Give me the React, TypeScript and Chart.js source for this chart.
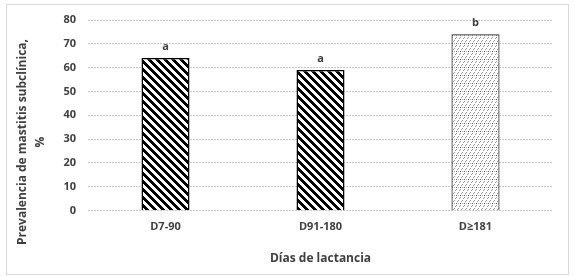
import React, { useEffect, useRef } from "react";
import { Chart, registerables } from "chart.js";

Chart.register(...registerables);

const categories = ["D7-90", "D91-180", "D≥181"];
const prevalence = [64, 59, 74];
const letters = ["a", "a", "b"];
const yTicks = [0, 10, 20, 30, 40, 50, 60, 70, 80];
const yTitle = ["Prevalencia de mastitis subclínica,", "%"];
const xTitle = "Días de lactancia";

const FONT = "'Open Sans', 'Liberation Sans', sans-serif";
const TEXT = "#404040";

function stripePattern(): CanvasPattern | string {
  const c = document.createElement("canvas");
  c.width = 8;
  c.height = 8;
  const g = c.getContext("2d");
  if (!g) return "#000";
  const img = g.createImageData(8, 8);
  for (let y = 0; y < 8; y++) {
    for (let x = 0; x < 8; x++) {
      const m = (((x - y) % 8) + 8) % 8;
      const v = m < 4 ? 0 : 255;
      const i = (y * 8 + x) * 4;
      img.data[i] = v;
      img.data[i + 1] = v;
      img.data[i + 2] = v;
      img.data[i + 3] = 255;
    }
  }
  g.putImageData(img, 0, 0);
  return g.createPattern(c, "repeat") || "#000";
}

function dotPattern(): CanvasPattern | string {
  const c = document.createElement("canvas");
  c.width = 8;
  c.height = 8;
  const g = c.getContext("2d");
  if (!g) return "#eee";
  g.fillStyle = "#fff";
  g.fillRect(0, 0, 8, 8);
  g.fillStyle = "#999";
  g.fillRect(1, 1, 1, 1);
  g.fillRect(2, 0, 1, 1);
  g.fillRect(5, 1, 1, 1);
  g.fillRect(6, 0, 1, 1);
  g.fillRect(3, 6, 1, 1);
  g.fillRect(4, 5, 1, 1);
  g.fillRect(7, 6, 1, 1);
  g.fillRect(0, 5, 1, 1);
  g.fillStyle = "#555";
  g.fillRect(0, 3, 1, 1);
  g.fillRect(4, 3, 1, 1);
  g.fillStyle = "#aaa";
  g.fillRect(2, 3, 1, 1);
  g.fillRect(6, 3, 1, 1);
  return g.createPattern(c, "repeat") || "#eee";
}

export default function App() {
  const ref = useRef<HTMLCanvasElement | null>(null);

  useEffect(() => {
    if (!ref.current) return;
    const stripes = stripePattern();
    const dots = dotPattern();

    const lettersPlugin = {
      id: "letters",
      afterDatasetsDraw(chart: any) {
        const ctx = chart.ctx;
        const meta = chart.getDatasetMeta(0);
        ctx.save();
        ctx.font = `bold 11px ${FONT}`;
        ctx.fillStyle = TEXT;
        ctx.textAlign = "center";
        ctx.textBaseline = "middle";
        meta.data.forEach((bar: any, i: number) => {
          ctx.fillText(letters[i], bar.x, bar.y - 11);
        });
        ctx.restore();
      },
    };

    const yTitlePlugin = {
      id: "yTitle",
      afterDraw(chart: any) {
        const ctx = chart.ctx;
        ctx.save();
        ctx.font = `bold 12px ${FONT}`;
        ctx.fillStyle = TEXT;
        ctx.textAlign = "center";
        ctx.textBaseline = "middle";
        ctx.translate(0, 142);
        ctx.rotate(-Math.PI / 2);
        ctx.fillText(yTitle[0], 0, 23);
        ctx.fillText(yTitle[1], 0, 41);
        ctx.restore();
      },
    };

    const chart = new Chart(ref.current, {
      type: "bar",
      data: {
        labels: categories,
        datasets: [
          {
            data: prevalence,
            backgroundColor: [stripes, stripes, dots] as any,
            borderColor: ["#000", "#000", "#222"],
            borderWidth: [1.5, 1.5, 1.2] as any,
            barPercentage: 0.31,
            categoryPercentage: 1,
          },
        ],
      },
      options: {
        animation: false,
        responsive: false,
        maintainAspectRatio: false,
        layout: { padding: { top: 20, right: 22, left: 0, bottom: 0 } },
        plugins: {
          legend: { display: false },
          tooltip: { enabled: false },
        },
        scales: {
          x: {
            grid: { display: false, drawTicks: false },
            border: { display: false },
            ticks: {
              color: TEXT,
              padding: 10,
              font: { family: FONT, size: 11, weight: "bold" },
            },
            title: {
              display: true,
              text: xTitle,
              color: TEXT,
              font: { family: FONT, size: 12, weight: "bold" },
              padding: { top: 0, bottom: 10 },
            },
            afterFit(scale: any) {
              scale.height = 65.5;
            },
          },
          y: {
            min: 0,
            max: 80,
            afterBuildTicks(scale: any) {
              scale.ticks = yTicks.map((v) => ({ value: v }));
            },
            grid: {
              color: "#c8c8c8",
              drawTicks: false,
            },
            border: { display: false, dash: [2, 1] },
            ticks: {
              color: TEXT,
              padding: 12,
              font: { family: FONT, size: 11, weight: "bold" },
            },
            afterFit(scale: any) {
              scale.width = 88;
            },
          },
        },
      },
      plugins: [lettersPlugin, yTitlePlugin],
    } as any);

    return () => chart.destroy();
  }, []);

  return (
    <div
      style={{
        position: "fixed",
        left: 0,
        top: 0,
        width: 575,
        height: 276,
        background: "#fff",
      }}
    >
      <canvas
        ref={ref}
        width={575}
        height={276}
        style={{ position: "absolute", left: 0, top: 0, width: 575, height: 276 }}
      />
      <div
        style={{
          position: "absolute",
          left: 6,
          top: 4,
          width: 563,
          height: 271,
          boxSizing: "border-box",
          border: "1px solid #d9d9d9",
          pointerEvents: "none",
        }}
      />
    </div>
  );
}
